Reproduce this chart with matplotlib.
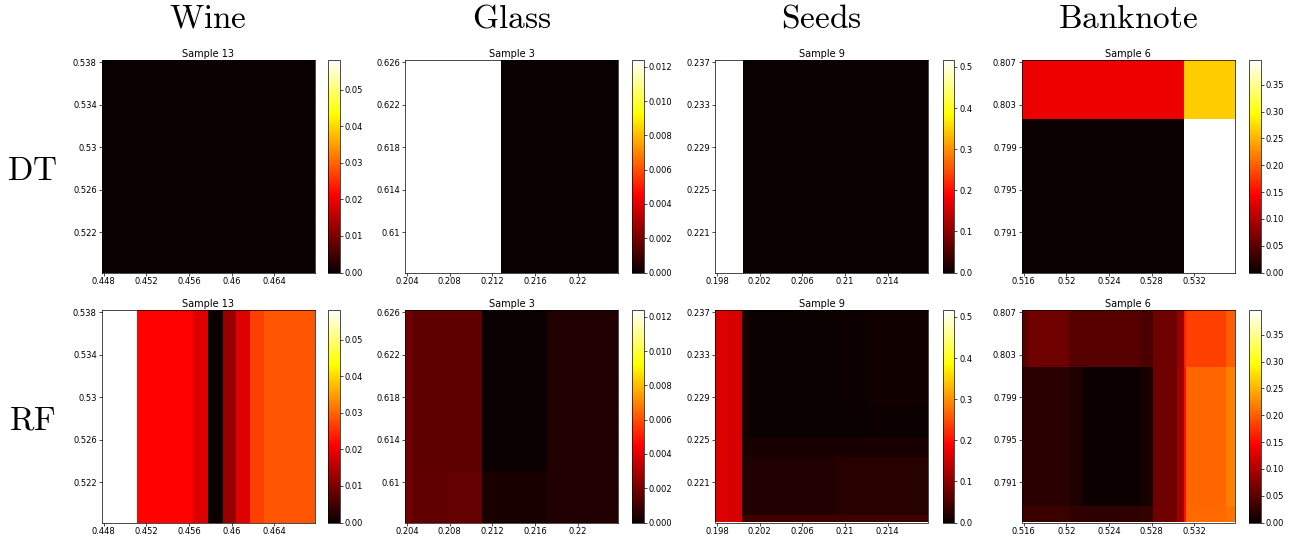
import numpy as np
import matplotlib
matplotlib.use("Agg")
import matplotlib.pyplot as plt

plt.rcParams["mathtext.fontset"] = "cm"

# datasets / rows
datasets = ["Wine", "Glass", "Seeds", "Banknote"]
models = ["DT", "RF"]
samples = [13, 3, 9, 6]

# grid start (left x value, top y value), 50 cells of 0.0004
x_start = [0.448, 0.204, 0.198, 0.516]
y_start = [0.538, 0.626, 0.237, 0.807]
grid_step = 0.0004
grid_n = 50

# colour scale max per dataset
vmax = [0.0582, 0.0124, 0.517, 0.396]
cbar_ticks = [
    [0.00, 0.01, 0.02, 0.03, 0.04, 0.05],
    [0.000, 0.002, 0.004, 0.006, 0.008, 0.010, 0.012],
    [0.0, 0.1, 0.2, 0.3, 0.4, 0.5],
    [0.00, 0.05, 0.10, 0.15, 0.20, 0.25, 0.30, 0.35],
]

# block maps: column cuts / row cuts in grid cells, values per block (rows x cols)
wine_dt_xcuts = [0, 50]
wine_dt_ycuts = [0, 50]
wine_dt_vals = [[0.0]]

wine_rf_xcuts = [0, 8.4, 21.5, 24.9, 28.4, 31.5, 34.9, 38.0, 50]
wine_rf_ycuts = [0, 50]
wine_rf_vals = [[0.0582, 0.0215, 0.0183, 0.0, 0.0124, 0.0185, 0.0268, 0.0286]]

glass_dt_xcuts = [0, 22.6, 50]
glass_dt_ycuts = [0, 50]
glass_dt_vals = [[0.0124, 0.0]]

glass_rf_xcuts = [0, 1.5, 10.4, 18.0, 33.4, 50]
glass_rf_ycuts = [0, 38.0, 50]
glass_rf_vals = [
    [0.00206, 0.00158, 0.00155, 0.00002, 0.00039],
    [0.00206, 0.00160, 0.00169, 0.00028, 0.00039],
]

seeds_dt_xcuts = [0, 6.6, 50]
seeds_dt_ycuts = [0, 50]
seeds_dt_vals = [[0.517, 0.0]]

seeds_rf_xcuts = [0, 3.0, 6.3, 8.0, 28.75, 36.2, 50]
seeds_rf_ycuts = [0, 22.6, 30.0, 34.7, 48.2, 50]
seeds_rf_vals = [
    [0.165, 0.159, 0.012, 0.002, 0.004, 0.005],
    [0.165, 0.159, 0.012, 0.001, 0.001, 0.004],
    [0.165, 0.159, 0.014, 0.012, 0.012, 0.012],
    [0.165, 0.159, 0.018, 0.018, 0.024, 0.024],
    [0.165, 0.159, 0.041, 0.041, 0.041, 0.041],
]

bank_dt_xcuts = [0, 38.0, 50]
bank_dt_ycuts = [0, 13.8, 50]
bank_dt_vals = [
    [0.1345, 0.265],
    [0.0, 0.396],
]

bank_rf_xcuts = [0, 1.4, 11.0, 14.5, 28.1, 30.8, 36.4, 38.0, 38.5, 48.0, 50]
bank_rf_ycuts = [0, 13.5, 46.1, 50]
bank_rf_vals = [
    [0.047, 0.060, 0.046, 0.046, 0.0375, 0.060, 0.085, 0.163, 0.182, 0.201],
    [0.0186, 0.0186, 0.0115, 0.002, 0.0091, 0.060, 0.088, 0.154, 0.205, 0.220],
    [0.028, 0.028, 0.022, 0.022, 0.025, 0.060, 0.088, 0.154, 0.207, 0.211],
]

blocks = [
    [(wine_dt_xcuts, wine_dt_ycuts, wine_dt_vals), (wine_rf_xcuts, wine_rf_ycuts, wine_rf_vals)],
    [(glass_dt_xcuts, glass_dt_ycuts, glass_dt_vals), (glass_rf_xcuts, glass_rf_ycuts, glass_rf_vals)],
    [(seeds_dt_xcuts, seeds_dt_ycuts, seeds_dt_vals), (seeds_rf_xcuts, seeds_rf_ycuts, seeds_rf_vals)],
    [(bank_dt_xcuts, bank_dt_ycuts, bank_dt_vals), (bank_rf_xcuts, bank_rf_ycuts, bank_rf_vals)],
]

W, H = 1296, 538
fig = plt.figure(figsize=(W / 100, H / 100), dpi=100)

col_left = [101.7, 405, 715, 1021.7]
cbar_left = [328, 632.3, 942.7, 1249]
row_top = [60, 310]
ax_w, ax_h, cb_w = 213, 212.5, 11.5


def rect(left, top, w, h):
    return [left / W, 1 - (top + h) / H, w / W, h / H]


for c in range(4):
    x0, y0 = x_start[c], y_start[c]
    for r in range(2):
        xcuts, ycuts, vals = blocks[c][r]
        ax = fig.add_axes(rect(col_left[c], row_top[r], ax_w, ax_h))
        xe = x0 + (np.array(xcuts) - 0.5) * grid_step
        ye = y0 - (np.array(ycuts) - 0.5) * grid_step
        mesh = ax.pcolormesh(xe, ye, np.array(vals), cmap="hot",
                             vmin=0, vmax=vmax[c], shading="flat")
        ax.set_xlim(x0 - 0.5 * grid_step, x0 + (grid_n - 0.5) * grid_step)
        ax.set_ylim(y0 - (grid_n - 0.5) * grid_step, y0 + 0.5 * grid_step)
        xt = [x0 + k * 10 * grid_step for k in range(5)]
        yt = [y0 - k * 10 * grid_step for k in range(5)]
        ax.set_xticks(xt)
        ax.set_xticklabels([f"{round(v, 3):g}" for v in xt])
        ax.set_yticks(yt)
        ax.set_yticklabels([f"{round(v, 3):g}" for v in yt])
        ax.tick_params(labelsize=6, length=2, width=0.5, pad=1.5)
        for s in ax.spines.values():
            s.set_linewidth(0.5)
        ax.set_title(f"Sample {samples[c]}", fontsize=7, pad=2.5)

        cax = fig.add_axes(rect(cbar_left[c], row_top[r], cb_w, ax_h))
        cb = fig.colorbar(mesh, cax=cax)
        cb.set_ticks(cbar_ticks[c])
        cb.ax.tick_params(labelsize=6, length=2, width=0.5, pad=1.5)
        cb.outline.set_linewidth(0.5)

    fig.text((col_left[c] + ax_w / 2) / W, 1 - 18 / H,
             r"$\mathrm{" + datasets[c] + "}$", fontsize=24,
             ha="center", va="center")

for r in range(2):
    fig.text(32 / W, 1 - (row_top[r] + 110) / H, r"$\mathrm{" + models[r] + "}$",
             fontsize=24, ha="center", va="center")

fig.savefig("out.png", dpi=100)
